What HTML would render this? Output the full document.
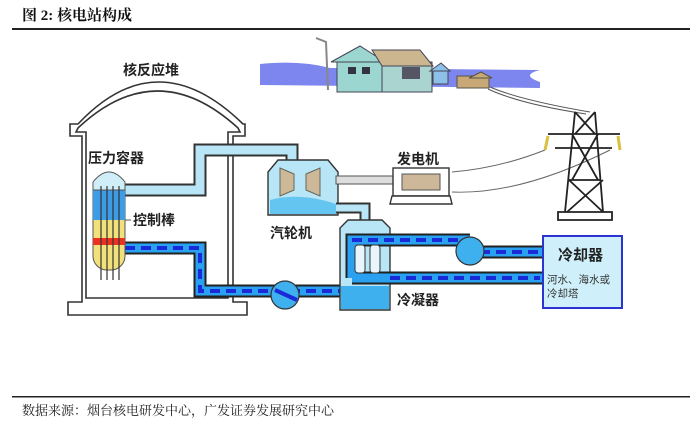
<!DOCTYPE html>
<html><head><meta charset="utf-8"><style>
html,body{margin:0;padding:0;background:#fff;}
svg{display:block;}
.t{font-family:"Liberation Sans","Noto Sans CJK SC",sans-serif;font-weight:bold;fill:#222;}
</style></head><body>
<svg width="700" height="426" viewBox="0 0 700 426" xmlns="http://www.w3.org/2000/svg">
<text x="22" y="20" font-family="'Liberation Serif','Noto Serif CJK SC',serif" font-weight="bold" font-size="15" fill="#111">图 2:  核电站构成</text>
<rect x="12" y="28" width="678" height="2" fill="#222"/>
<path d="M260 64 Q300 60 330 68 L540 70 Q520 75 540 82 L540 88 L260 85 Z" fill="#7d86ee"/>
<path d="M316 38 L326 42 L328 90" stroke="#888" stroke-width="2" fill="none"/>
<rect x="337" y="60" width="45" height="32" fill="#9bd6d0" stroke="#445" stroke-width="1"/>
<path d="M331 62 L360 46 L385 62 Z" fill="#9bd6d0" stroke="#445"/>
<rect x="382" y="62" width="50" height="30" fill="#a9d4cf" stroke="#445"/>
<path d="M372 50 L420 50 L433 66 L382 66 Z" fill="#cbb68f" stroke="#445"/>
<rect x="348" y="67" width="8" height="7" fill="#334"/><rect x="362" y="67" width="8" height="7" fill="#334"/>
<rect x="402" y="67" width="18" height="12" fill="#556"/>
<rect x="433" y="70" width="15" height="14" fill="#8cc0e8" stroke="#445"/>
<path d="M430 71 L441 63 L450 71 Z" fill="#8cc0e8" stroke="#445"/>
<rect x="457" y="76" width="32" height="12" fill="#c9a878" stroke="#554"/>
<path d="M469 78 L481 72 L492 78 Z" fill="#c9a878" stroke="#554"/>
<path d="M490 87 Q520 100 590 112" stroke="#555" fill="none"/>
<path d="M488 89 Q520 104 586 114" stroke="#555" fill="none"/>
<path d="M452 172 Q500 168 545 150" stroke="#666" fill="none"/>
<path d="M452 192 Q520 195 610 150" stroke="#666" fill="none"/>
<g stroke="#222" stroke-width="1.8" fill="none">
<path d="M575 112 L565 212 M595 112 L603 212 M548 134 L620 134 M555 148 L612 148 M575 112 L595 134 M595 112 L575 134 M572 134 L598 180 M598 134 L572 180 M569 180 L603 212 M603 180 L567 212 M569 180 L600 180"/>
<path d="M558 212 L612 212 L612 220 L558 220 Z"/>
</g>
<path d="M548 136 L545 150 M618 136 L620 150" stroke="#d8c040" stroke-width="3"/>
<g stroke="#333" stroke-width="1.6" fill="none">
<path d="M68 315 L68 302 L82 302 L82 136 L70 136 L70 124 L78 124 Q157 40 243 124 L245 124 L245 136 L233 136 L233 302 L247 302 L247 315 Z"/>
<path d="M86 298 L86 132 L76 132 L78 128 Q157 54 238 128 L240 132 L228 132 L228 298 Z"/>
</g>
<text class="t" x="123" y="75" font-size="14">核反应堆</text>
<text class="t" x="88" y="163" font-size="14">压力容器</text>
<path d="M120 190 L200 190 L200 150 L292 150 L292 162" stroke="#333" stroke-width="13" fill="none"/>
<path d="M120 190 L200 190 L200 150 L292 150 L292 162" stroke="#b8e6f6" stroke-width="9" fill="none"/>
<path d="M120 248 L200 248 L200 291 L345 291" stroke="#222" stroke-width="13" fill="none"/>
<path d="M120 248 L200 248 L200 291 L345 291" stroke="#2aa0f0" stroke-width="9" fill="none"/>
<path d="M125 248 L200 248 L200 291 L345 291" stroke="#1a2ad8" stroke-width="4" stroke-dasharray="10 6" fill="none"/>
<circle cx="285" cy="295" r="14" fill="#3fb0ee" stroke="#333" stroke-width="1.2"/>
<path d="M275 290 L297 300" stroke="#1a2ad8" stroke-width="4"/>
<rect x="93" y="178" width="32" height="92" rx="14" fill="#f2e07a" stroke="#555"/>
<rect x="93" y="190" width="32" height="30" fill="#3c9ce6"/>
<path d="M93 190 L93 182 Q109 162 125 182 L125 190 Z" fill="#cfeef8" stroke="#555"/>
<rect x="93" y="238" width="32" height="7" fill="#ee3020"/>
<g stroke="#333" stroke-width="1.2"><path d="M101 186 L101 280 M107 186 L107 280 M113 186 L113 280 M119 186 L119 280"/></g>
<path d="M125 220 L131 220" stroke="#555"/>
<text class="t" x="133" y="225" font-size="14">控制棒</text>
<path d="M268 215 L268 172 L278 160 L328 160 L338 172 L338 215 Z" fill="#b8e6f6" stroke="#333" stroke-width="1.4"/>
<path d="M270 200 Q300 192 336 204 L336 214 L270 214 Z" fill="#64c6f0"/>
<path d="M280 168 L294 174 L294 190 L280 196 Z M306 174 L320 168 L320 196 L306 190 Z" fill="#cdb89a" stroke="#665"/>
<rect x="336" y="176" width="60" height="8" fill="#ddd" stroke="#555"/>
<text class="t" x="270" y="238" font-size="14">汽轮机</text>
<rect x="393" y="168" width="56" height="28" fill="#fff" stroke="#333" stroke-width="1.4"/>
<rect x="402" y="174" width="38" height="16" fill="#cdb89a" stroke="#555"/>
<path d="M390 204 L392 196 L450 196 L452 204 Z" fill="#fff" stroke="#333" stroke-width="1.4"/>
<text class="t" x="397" y="164" font-size="14">发电机</text>
<path d="M336 208 L365 208 L365 222" stroke="#333" stroke-width="11" fill="none"/>
<path d="M336 208 L365 208 L365 222" stroke="#b8e6f6" stroke-width="7" fill="none"/>
<path d="M340 310 L340 228 L348 220 L382 220 L390 228 L390 310 Z" fill="#b8e6f6" stroke="#333" stroke-width="1.4"/>
<rect x="341" y="286" width="48" height="23" fill="#3fb0ee"/>
<path d="M352 278 L352 240 L470 240 M470 252 L545 252 M352 278 L545 278" stroke="#222" stroke-width="13" fill="none"/>
<path d="M352 278 L352 240 L470 240 M470 252 L545 252 M352 278 L545 278" stroke="#2aa0f0" stroke-width="9" fill="none"/>
<path d="M352 240 L470 240 M480 252 L540 252 M390 278 L540 278" stroke="#1a2ad8" stroke-width="4" stroke-dasharray="10 6" fill="none"/>
<circle cx="470" cy="251" r="14" fill="#3fb0ee" stroke="#333" stroke-width="1.2"/>
<rect x="355" y="245" width="10" height="28" rx="3" fill="#e8f6fc" stroke="#333"/>
<rect x="370" y="245" width="10" height="28" rx="3" fill="#e8f6fc" stroke="#333"/>
<text class="t" x="397" y="305" font-size="14">冷凝器</text>
<rect x="543" y="236" width="79" height="72" fill="#cff0fa" stroke="#2a34d0" stroke-width="2"/>
<text class="t" x="558" y="260" font-size="15">冷却器</text>
<text x="547" y="283" font-family="'Liberation Sans','Noto Sans CJK SC',sans-serif" font-size="10.5" fill="#333">河水、海水或</text>
<text x="547" y="297" font-family="'Liberation Sans','Noto Sans CJK SC',sans-serif" font-size="10.5" fill="#333">冷却塔</text>
<rect x="12" y="396" width="678" height="1.5" fill="#222"/>
<text x="22" y="415" font-family="'Liberation Serif','Noto Serif CJK SC',serif" font-size="13" fill="#222">数据来源：烟台核电研发中心，广发证券发展研究中心</text>
</svg>
</body></html>
